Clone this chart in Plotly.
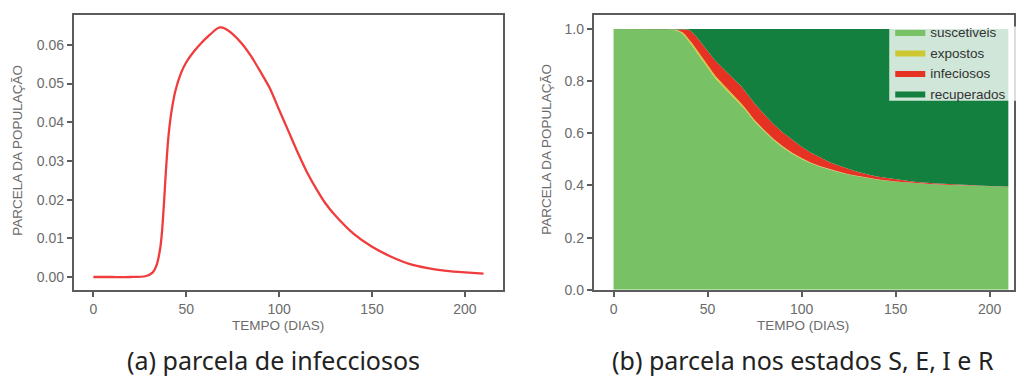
import plotly.graph_objects as go

# ---- data ----
tempo = [0, 10, 20, 28, 32, 34, 36, 37, 38, 39, 40, 41, 42, 44, 47, 50, 54, 58, 62, 66, 68, 70,
         75, 80, 85, 90, 95, 100, 105, 110, 115, 120, 125, 130, 140, 150, 160, 170, 180,
         190, 200, 210]

infecciosos = [0.0, 0.0, 0.0, 0.0002, 0.0012, 0.003, 0.0075, 0.012, 0.019, 0.027, 0.034,
               0.039, 0.0426, 0.0478, 0.0525, 0.0555, 0.0582, 0.0604, 0.0623, 0.0640, 0.0645,
               0.0644, 0.0628, 0.0603, 0.0570, 0.0530, 0.0488, 0.0432, 0.0377, 0.0322, 0.0271,
               0.0228, 0.0190, 0.0160, 0.0112, 0.0078, 0.0053, 0.0034, 0.0023, 0.0016, 0.0012,
               0.0009]

suscetiveis = [1.0, 1.0, 0.9998, 0.999, 0.996, 0.993, 0.986, 0.980, 0.972, 0.963, 0.954,
               0.944, 0.934, 0.913, 0.882, 0.850, 0.812, 0.781, 0.752, 0.722, 0.707, 0.690,
               0.645, 0.608, 0.574, 0.546, 0.522, 0.502, 0.485, 0.472, 0.460, 0.451,
               0.442, 0.435, 0.423, 0.415, 0.409, 0.405, 0.402, 0.399, 0.397, 0.395]

expostos = [0.0, 0.0, 0.0, 0.0008, 0.002, 0.003, 0.005, 0.006, 0.007, 0.008, 0.009,
            0.0095, 0.010, 0.0105, 0.0105, 0.010, 0.0095, 0.009, 0.0085, 0.008, 0.0077, 0.0074,
            0.0066, 0.0058, 0.005, 0.0043, 0.0037, 0.0031, 0.0026, 0.0021, 0.0018, 0.0015,
            0.0012, 0.001, 0.0007, 0.0005, 0.0003, 0.0002, 0.0002, 0.0001, 0.0001, 0.0001]

recuperados = [0.0, 0.0, 0.0002, 0.0, 0.0008, 0.001, 0.0015, 0.002, 0.002, 0.002, 0.003,
               0.0075, 0.0134, 0.0287, 0.055, 0.0845, 0.1203, 0.1496, 0.1772, 0.206, 0.2208,
               0.2382, 0.2856, 0.3259, 0.364, 0.3967, 0.4255, 0.4517, 0.4747, 0.4937, 0.5111,
               0.5247, 0.5378, 0.548, 0.5651, 0.5767, 0.5854, 0.5914, 0.5955, 0.5993, 0.6017,
               0.604]

x_ticks = [0, 50, 100, 150, 200]
y_ticks_a = [0.00, 0.01, 0.02, 0.03, 0.04, 0.05, 0.06]
y_ticks_b = [0.0, 0.2, 0.4, 0.6, 0.8, 1.0]

nomes = ["suscetiveis", "expostos", "infeciosos", "recuperados"]
cores = ["#78c165", "#cdc832", "#e63223", "#13803f"]

# ---- figure ----
fig = go.Figure()

fig.add_trace(go.Scatter(x=tempo, y=infecciosos, mode="lines", showlegend=False,
                         line=dict(color="#f03c3c", width=2.3, shape="spline", smoothing=0.6),
                         xaxis="x", yaxis="y"))

for nome, cor, serie in zip(nomes, cores, [suscetiveis, expostos, infecciosos, recuperados]):
    fig.add_trace(go.Scatter(x=tempo, y=serie, name=nome, mode="lines",
                             stackgroup="seir", fillcolor=cor,
                             line=dict(width=0, color=cor),
                             xaxis="x2", yaxis="y2"))

W, H = 1016, 381
top_px, bot_px = 15, 296
ydom = [1 - bot_px / H, 1 - top_px / H]

tickfont = dict(family="Liberation Sans, Arial, sans-serif", size=14, color="#6b6b6b")
axis_common = dict(showline=True, mirror=True, linecolor="#5c5c5c", linewidth=2,
                   ticks="outside", ticklen=5, tickwidth=2, tickcolor="#5c5c5c",
                   showgrid=False, zeroline=False, tickfont=tickfont)

fig.update_layout(
    width=W, height=H,
    margin=dict(l=0, r=0, t=0, b=0),
    paper_bgcolor="white", plot_bgcolor="white",
    xaxis=dict(domain=[74 / W, 504 / W], range=[-10.5, 220.5], tickvals=x_ticks, **axis_common),
    yaxis=dict(domain=ydom, range=[-0.0033, 0.0678], tickvals=y_ticks_a,
               tickformat=".2f", **axis_common),
    xaxis2=dict(domain=[595 / W, 1.0], range=[-10.5, 213.0], tickvals=x_ticks,
                anchor="y2", **axis_common),
    yaxis2=dict(domain=ydom, range=[0, 1.055], tickvals=y_ticks_b, tickformat=".1f",
                anchor="x2", **axis_common),
    legend=dict(x=892 / W, y=1 - 17 / H, xanchor="left", yanchor="top",
                bgcolor="rgba(0,0,0,0)", borderwidth=0,
                font=dict(family="Liberation Sans, Arial", size=13.5, color="#333333"),
                traceorder="normal", itemwidth=30, tracegroupgap=0),
    showlegend=True,
    shapes=[dict(type="rect", xref="paper", yref="paper", x0=891 / W, x1=1.02,
                 y0=1 - 103 / H, y1=1 - 27 / H, fillcolor="rgba(255,255,255,0.8)",
                 line=dict(width=0), layer="above")],
)

title_font = dict(family="Liberation Sans, Arial, sans-serif", size=13.5, color="#6b6b6b")
cap_font = dict(family="Noto Sans, Open Sans, sans-serif", size=25, color="#222222")

annotations = [
    dict(text="TEMPO (DIAS)", x=279 / W, y=1 - 332 / H, xref="paper", yref="paper",
         showarrow=False, font=title_font, xanchor="center", yanchor="middle"),
    dict(text="TEMPO (DIAS)", x=805 / W, y=1 - 332 / H, xref="paper", yref="paper",
         showarrow=False, font=title_font, xanchor="center", yanchor="middle"),
    dict(text="PARCELA DA POPULAÇÃO", x=18 / W, y=1 - 153 / H, xref="paper", yref="paper",
         showarrow=False, font=title_font, textangle=-90, xanchor="center", yanchor="middle"),
    dict(text="PARCELA DA POPULAÇÃO", x=548 / W, y=1 - 152 / H, xref="paper", yref="paper",
         showarrow=False, font=title_font, textangle=-90, xanchor="center", yanchor="middle"),
    dict(text="(a) parcela de infecciosos", x=274 / W, y=1 - 368 / H, xref="paper",
         yref="paper", showarrow=False, font=cap_font, xanchor="center", yanchor="middle"),
    dict(text="(b) parcela nos estados S, E, I e R", x=805 / W, y=1 - 368 / H, xref="paper",
         yref="paper", showarrow=False, font=cap_font, xanchor="center", yanchor="middle"),
]
fig.update_layout(annotations=annotations)

fig.write_html("out.html")
